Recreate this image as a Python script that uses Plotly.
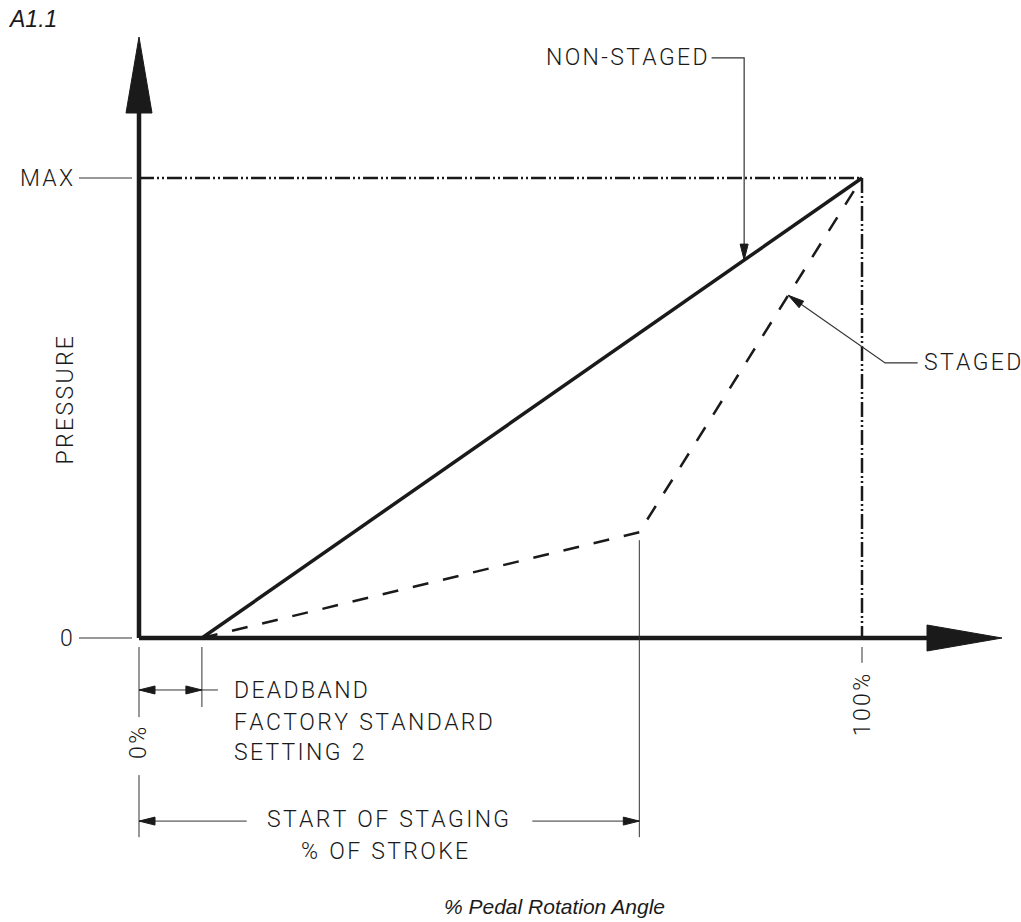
import plotly.graph_objects as go

# --- data (percent of pedal stroke / percent of max pressure) ---
deadband = 8.7          # % stroke where pressure starts to build
staging_start = 69.2    # % stroke where staging kicks in
staged_knee = 23.0      # % pressure reached at start of staging

nonstaged_x = [deadband, 100]
nonstaged_y = [0, 100]
staged_x = [deadband, staging_start, 100]
staged_y = [0, staged_knee, 100]

y_tick_vals = [0, 100]
y_tick_text = ["0", "MAX"]
x_tick_vals = [0, 100]
x_tick_text = ["0%", "100%"]

# --- pixel frame of the drawing ---
W, H = 1021, 922
X0_PX, X100_PX = 139, 862
Y0_PX, Y100_PX = 638, 178
PX_X = (X100_PX - X0_PX) / 100.0
PX_Y = (Y0_PX - Y100_PX) / 100.0
x_range = [-X0_PX / PX_X, (W - X0_PX) / PX_X]
y_range = [-(H - Y0_PX) / PX_Y, Y0_PX / PX_Y]

x_axis_end = (1002 - X0_PX) / PX_X
y_axis_end = (Y0_PX - 37) / PX_Y

INK = "#1a1a1a"
THIN = "#333333"
FONT = "Roboto, Liberation Sans, sans-serif"


def head(tx, ty, ux, uy, length, width):
    # triangle for an arrow tip; (ux, uy) is the direction in screen space (y up)
    bx, by = -ux * length, -uy * length
    nx, ny = -uy * width / 2, ux * width / 2
    xs = [tx, tx + (bx + nx) / PX_X, tx + (bx - nx) / PX_X, tx]
    ys = [ty, ty + (by + ny) / PX_Y, ty + (by - ny) / PX_Y, ty]
    return go.Scatter(x=xs, y=ys, mode="lines", fill="toself", fillcolor=INK,
                      line=dict(color=INK, width=1), hoverinfo="skip", showlegend=False)


def seg(xs, ys, width=1, color=THIN, dash="solid"):
    return go.Scatter(x=xs, y=ys, mode="lines", line=dict(color=color, width=width, dash=dash),
                      hoverinfo="skip", showlegend=False)


def spaced(s):
    # drafting style letter spacing
    return "  ".join("\u200a".join(w) for w in s.split(" "))


fig = go.Figure()

# reference lines to MAX / 100 %
dash_dot_dot = "15px,3px,2px,3px,2px,3px"
fig.add_trace(seg([0, 100], [100, 100], width=2.5, color=INK, dash=dash_dot_dot))
fig.add_trace(seg([100, 100], [100, 0], width=2.5, color=INK, dash=dash_dot_dot))

# curves
fig.add_trace(seg(nonstaged_x, nonstaged_y, width=3.5, color=INK))
fig.add_trace(seg(staged_x, staged_y, width=2.5, color=INK, dash="16px,15px"))

# axes with big arrow heads
fig.add_trace(seg([0, 0], [0, y_axis_end - 70 / PX_Y], width=4.5, color=INK))
fig.add_trace(seg([0, x_axis_end - 70 / PX_X], [0, 0], width=4.5, color=INK))
fig.add_trace(head(0, y_axis_end, 0, 1, 76, 26))
fig.add_trace(head(x_axis_end, 0, 1, 0, 75, 26))

# y tick leaders
lx0, lx1 = -60 / PX_X, -7 / PX_X
fig.add_trace(seg([lx0, lx1, None, lx0, lx1], [0, 0, None, 100, 100], width=1.2))

# extension lines below the x axis
g = 9 / PX_Y
fig.add_trace(seg([0, 0, None, 0, 0], [-g, -17.2, None, -29.8, -43.3]))
fig.add_trace(seg([deadband, deadband], [-g, -15.0]))
fig.add_trace(seg([100, 100], [-g, -5.4]))
fig.add_trace(seg([staging_start, staging_start], [staged_knee - 8 / PX_Y, -43.3]))

# deadband dimension
dy_db = -11.3
fig.add_trace(seg([0, deadband + 16 / PX_X], [dy_db, dy_db]))
fig.add_trace(head(0, dy_db, -1, 0, 16, 8))
fig.add_trace(head(deadband, dy_db, 1, 0, 16, 8))

# start of staging dimension
dy_st = -39.8
fig.add_trace(seg([0, 14.9, None, 54.4, staging_start], [dy_st, dy_st, None, dy_st, dy_st]))
fig.add_trace(head(0, dy_st, -1, 0, 16, 8))
fig.add_trace(head(staging_start, dy_st, 1, 0, 16, 8))

# NON-STAGED leader
ns_x = 83.7
ns_y = (ns_x - deadband) / (100 - deadband) * 100
fig.add_trace(seg([79.2, ns_x, ns_x], [126.1, 126.1, ns_y + 4 / PX_Y], width=1.2))
fig.add_trace(head(ns_x, ns_y, 0, -1, 16, 8))

# STAGED leader
st_x = 89.8
st_y = staged_knee + (st_x - staging_start) / (100 - staging_start) * (100 - staged_knee)
elb_x, elb_y = 103.2, 59.8
fig.add_trace(seg([107.7, elb_x, st_x], [elb_y, elb_y, st_y], width=1.2))
ux, uy = (st_x - elb_x) * PX_X, (st_y - elb_y) * PX_Y
n = (ux ** 2 + uy ** 2) ** 0.5
fig.add_trace(head(st_x, st_y, ux / n, uy / n, 16, 8))

# --- text ---
txt = dict(family=FONT, size=23, color=INK, weight=300)


def label(x, y, text, xanchor="center", angle=0, font=txt):
    fig.add_annotation(x=x, y=y, text=text, showarrow=False, xanchor=xanchor, yanchor="middle",
                       textangle=angle, font=font)


for v, t in zip(y_tick_vals, y_tick_text):
    label(-8.9, v, spaced(t), xanchor="right")
label(0, -22.8, spaced(x_tick_text[0]), angle=-90)
label(100, -14.6, spaced(x_tick_text[1]), angle=-90)
label(-10.2, 51.7, spaced("PRESSURE"), angle=-90)
label(79.0, 126.1, spaced("NON-STAGED"), xanchor="right")
label(108.3, 59.8, spaced("STAGED"), xanchor="left")
label(12.9, -11.5, spaced("DEADBAND"), xanchor="left")
label(12.9, -18.3, spaced("FACTORY STANDARD"), xanchor="left")
label(12.9, -24.8, spaced("SETTING 2"), xanchor="left")
label(34.4, -39.4, spaced("START OF STAGING"))
label(33.9, -46.5, spaced("% OF STROKE"))
label(57.5, -58.3, "<i>% Pedal Rotation Angle</i>",
      font=dict(family="Liberation Sans, Arial, sans-serif", size=21, color=INK))

fig.update_layout(
    width=W, height=H,
    margin=dict(l=0, r=0, t=0, b=0),
    paper_bgcolor="white", plot_bgcolor="white",
    showlegend=False,
    xaxis=dict(range=x_range, visible=False, fixedrange=True),
    yaxis=dict(range=y_range, visible=False, fixedrange=True),
    title=dict(text="<i>A1.1</i>", x=10 / W, xanchor="left", y=1 - 19 / H, yanchor="middle",
               font=dict(family="Liberation Sans, Arial, sans-serif", size=23, color=INK)),
)

fig.write_html("out.html", config={"displayModeBar": False},
               post_script="document.body.style.margin='0';")
